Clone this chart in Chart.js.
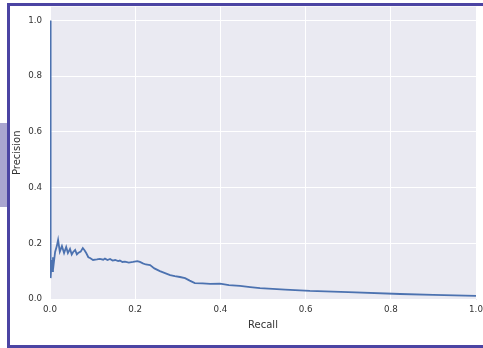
<!DOCTYPE html>
<html>
<head>
<meta charset="utf-8">
<script src="https://cdn.jsdelivr.net/npm/chart.js@4"></script>
<style>
  html, body { margin: 0; padding: 0; background: #fff; }
  body { width: 483px; height: 348px; overflow: hidden; position: relative; }
  #tab { position: absolute; left: 0; top: 123px; width: 8px; height: 84px; background: #a9a5d0; }
  #frame { position: absolute; left: 7px; top: 3px; width: 600px; height: 345px; box-sizing: border-box; border: 3px solid #4b44a3; }
  #wrap { position: absolute; left: 0; top: 0; width: 483px; height: 348px; }
</style>
</head>
<body>
<div id="tab"></div>
<div id="frame"></div>
<div id="wrap"><canvas id="chart-pr" width="483" height="348"></canvas></div>
<script>
const recall = [
  0, 0.001, 0.002, 0.004, 0.005, 0.007, 0.009, 0.012, 0.016, 0.019,
  0.023, 0.028, 0.033, 0.038, 0.042, 0.047, 0.051, 0.054, 0.059, 0.063,
  0.066, 0.072, 0.077, 0.081, 0.085, 0.090, 0.094, 0.101, 0.110, 0.117,
  0.125, 0.129, 0.135, 0.141, 0.147, 0.153, 0.160, 0.164, 0.170, 0.176,
  0.185, 0.195, 0.205, 0.211, 0.218, 0.225, 0.235, 0.245, 0.258, 0.270,
  0.282, 0.293, 0.305, 0.317, 0.328, 0.340, 0.358, 0.376, 0.399, 0.420,
  0.446, 0.470, 0.493, 0.552, 0.610, 0.700, 0.822, 0.900, 1.0
];
const precision = [
  1.0, 0.334, 0.075, 0.14, 0.10, 0.15, 0.13, 0.169, 0.19, 0.212,
  0.17, 0.19, 0.165, 0.187, 0.165, 0.18, 0.16, 0.168, 0.176, 0.16,
  0.165, 0.17, 0.183, 0.175, 0.165, 0.15, 0.147, 0.14, 0.142, 0.144,
  0.141, 0.145, 0.14, 0.144, 0.138, 0.14, 0.136, 0.138, 0.133, 0.134,
  0.131, 0.133, 0.136, 0.133, 0.128, 0.124, 0.122, 0.11, 0.10, 0.093,
  0.086, 0.082, 0.079, 0.075, 0.066, 0.057, 0.056, 0.054, 0.055, 0.05,
  0.047, 0.043, 0.039, 0.034, 0.029, 0.025, 0.018, 0.015, 0.011
];
const xTicks = [0, 0.2, 0.4, 0.6, 0.8, 1.0];
const yTicks = [0, 0.2, 0.4, 0.6, 0.8, 1.0];

const tickFont = { family: "DejaVu Sans", size: 8.7 };
const titleFont = { family: "DejaVu Sans", size: 10 };
const textColor = "#333333";

// seaborn-like grey panel behind the plot
const panelBg = {
  id: "panelBg",
  beforeDraw(chart) {
    const { ctx, chartArea: a } = chart;
    ctx.save();
    ctx.fillStyle = "#eaeaf2";
    ctx.fillRect(a.left, a.top, a.right - a.left + 1, a.bottom - a.top + 1);
    ctx.restore();
  },
};

// fixed axis size, no extra label padding
function fixScale(size, horizontal) {
  return (s) => {
    if (horizontal) s.height = size;
    else s.width = size;
    s.paddingTop = 0;
    s.paddingBottom = 0;
    s.paddingLeft = 0;
    s.paddingRight = 0;
  };
}

new Chart(document.getElementById("chart-pr"), {
  type: "line",
  data: {
    datasets: [
      {
        data: recall.map((r, i) => ({ x: r, y: precision[i] })),
        borderColor: "#4c72b0",
        borderWidth: 1.8,
        pointRadius: 0,
        tension: 0,
        fill: false,
        clip: 0,
      },
    ],
  },
  options: {
    responsive: false,
    animation: false,
    layout: { autoPadding: false, padding: { left: 0, top: 6.6, right: 7, bottom: 0 } },
    plugins: { legend: { display: false }, tooltip: { enabled: false } },
    scales: {
      x: {
        type: "linear",
        min: 0,
        max: 1,
        afterBuildTicks: (s) => { s.ticks = xTicks.map((v) => ({ value: v })); },
        afterFit: fixScale(49, true),
        ticks: {
          callback: (v) => v.toFixed(1),
          font: tickFont,
          color: textColor,
          padding: 6,
          maxRotation: 0,
          autoSkip: false,
        },
        grid: { color: "#ffffff", lineWidth: 1, drawTicks: false },
        border: { display: false },
        title: { display: true, text: "Recall", font: titleFont, color: textColor, padding: { top: 0, bottom: 17 } },
      },
      y: {
        type: "linear",
        min: 0,
        max: 1.05,
        afterBuildTicks: (s) => { s.ticks = yTicks.map((v) => ({ value: v })); },
        afterFit: fixScale(50, false),
        ticks: {
          callback: (v) => v.toFixed(1),
          font: tickFont,
          color: textColor,
          padding: 8,
          autoSkip: false,
        },
        grid: { color: "#ffffff", lineWidth: 1, drawTicks: false },
        border: { display: false },
        title: { display: true, text: "Precision", font: titleFont, color: textColor, padding: { top: 11, bottom: 0 } },
      },
    },
  },
  plugins: [panelBg],
});
</script>
</body>
</html>
